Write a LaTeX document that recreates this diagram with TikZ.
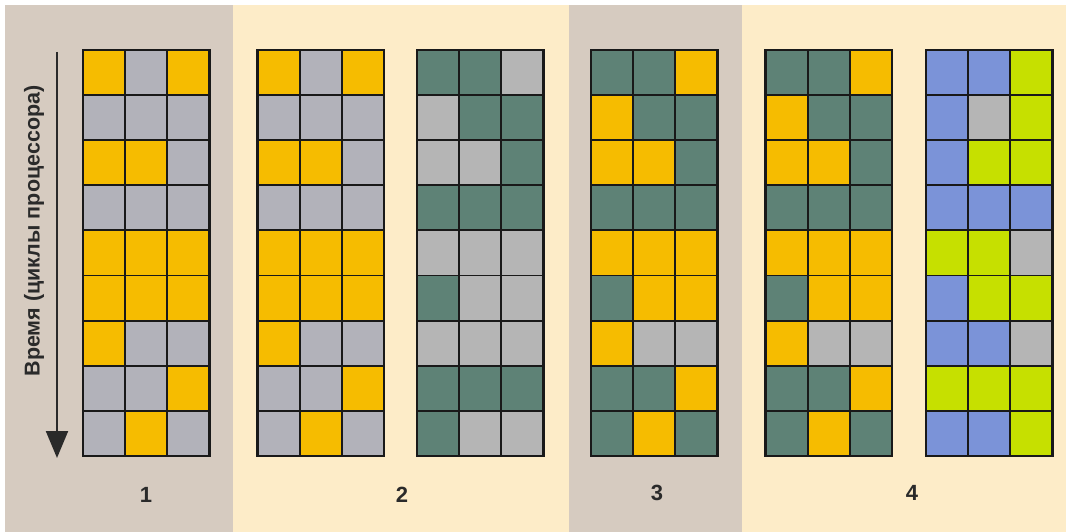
\documentclass[tikz,border=0pt]{standalone}
\usepackage{fontspec}
\setmainfont{Liberation Sans}
\usetikzlibrary{arrows.meta}
\definecolor{panelgray}{HTML}{D6CBC0}
\definecolor{panelcream}{HTML}{FDECC8}
\definecolor{colY}{HTML}{F6BC00}
\definecolor{colG}{HTML}{B2B2BA}
\definecolor{colD}{HTML}{5E8276}
\definecolor{colL}{HTML}{B5B5B5}
\definecolor{colB}{HTML}{7B93D8}
\definecolor{colM}{HTML}{C6E000}
\definecolor{txt}{HTML}{2A2A2A}
\newcommand\drawschedgrid[3]{%
  \foreach \row [count=\r from 0] in {#3} {
    \foreach \c [count=\k from 0] in \row {
      \fill[fill=col\c] ({#1+\k*42.17},{#2+\r*45.1}) rectangle +(42.17,45.1);
    }
  }
  \foreach \k in {1,2} {\draw[gridline] ({#1+\k*42.17},#2) -- +(0,405.9);}
  \foreach \r in {1,...,8} {\draw[gridline] (#1,{#2+\r*45.1}) -- +(126.5,0);}
  \draw[gridline, line width=2.4pt] (#1,#2) rectangle +(126.5,405.9);
}
\begin{document}
\begin{tikzpicture}[x=1pt,y=-1pt,
  gridline/.style={draw=black!90, line width=1.9pt},
  numlabel/.style={font=\fontsize{22}{22}\selectfont\bfseries, text=txt, inner sep=0pt},
  timearrow/.style={draw=txt, line width=2.2pt, -{Triangle[width=22pt,length=27pt]}}]
\useasboundingbox (0,0) rectangle (1066,532);
\fill[white] (0,0) rectangle (1066,532);
\fill[panelgray] (5,5) rectangle (233,532);
\fill[panelcream] (233,5) rectangle (569,532);
\fill[panelgray] (569,5) rectangle (742,532);
\fill[panelcream] (742,5) rectangle (1066,532);
% grid 1
\drawschedgrid{83}{50}{{Y,G,Y},{G,G,G},{Y,Y,G},{G,G,G},{Y,Y,Y},{Y,Y,Y},{Y,G,G},{G,G,Y},{G,Y,G}}
% grid 2a
\drawschedgrid{257.5}{50}{{Y,G,Y},{G,G,G},{Y,Y,G},{G,G,G},{Y,Y,Y},{Y,Y,Y},{Y,G,G},{G,G,Y},{G,Y,G}}
% grid 2b
\drawschedgrid{417}{50}{{D,D,L},{L,D,D},{L,L,D},{D,D,D},{L,L,L},{D,L,L},{L,L,L},{D,D,D},{D,L,L}}
% grid 3
\drawschedgrid{591}{50}{{D,D,Y},{Y,D,D},{Y,Y,D},{D,D,D},{Y,Y,Y},{D,Y,Y},{Y,L,L},{D,D,Y},{D,Y,D}}
% grid 4a
\drawschedgrid{765.5}{50}{{D,D,Y},{Y,D,D},{Y,Y,D},{D,D,D},{Y,Y,Y},{D,Y,Y},{Y,L,L},{D,D,Y},{D,Y,D}}
% grid 4b
\drawschedgrid{926}{50}{{B,B,M},{B,L,M},{B,M,M},{B,B,B},{M,M,L},{B,M,M},{B,B,L},{M,M,M},{B,B,M}}
% time arrow
\coordinate (tstart) at (57,52);
\coordinate (tend) at (57,458);
\draw[timearrow] (tstart) -- (tend);
\node[rotate=90, font=\fontsize{21.5}{21.5}\selectfont\bfseries, text=txt, inner sep=0pt] (timelabel) at (34,231) {Время (циклы процессора)};
% labels
\node[numlabel] (l1) at (146,495) {1};
\node[numlabel] (l2) at (402,495) {2};
\node[numlabel] (l3) at (657,493) {3};
\node[numlabel] (l4) at (912,493) {4};
\end{tikzpicture}
\end{document}
